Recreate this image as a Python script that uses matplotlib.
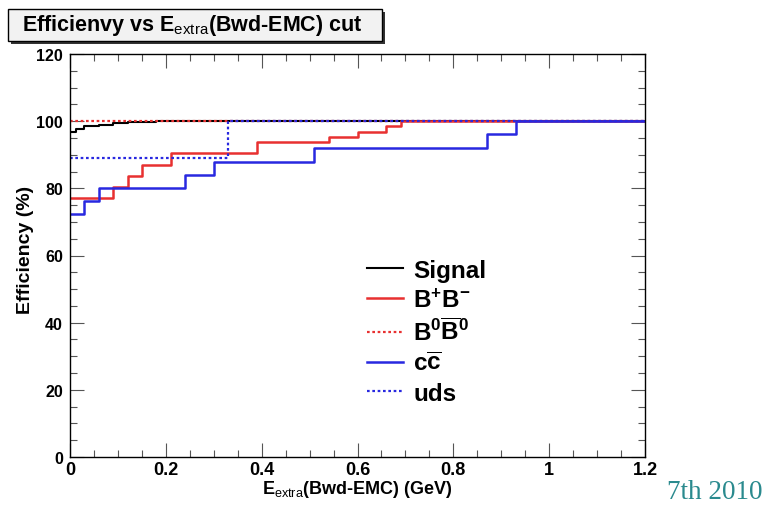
import matplotlib
matplotlib.use('Agg')
import matplotlib.pyplot as plt
from matplotlib.patches import Rectangle
from matplotlib.ticker import MultipleLocator

plt.rcParams['font.family'] = 'Liberation Sans'
plt.rcParams['mathtext.fontset'] = 'custom'
plt.rcParams['mathtext.rm'] = 'Liberation Sans'
plt.rcParams['mathtext.bf'] = 'Liberation Sans:bold'

# step curves: bin edges (GeV) and efficiency (%)
signal_x = [0, 0.012, 0.03, 0.06, 0.09, 0.12, 0.18, 1.2]
signal_y = [96.8, 97.7, 98.5, 98.9, 99.4, 99.7, 100, 100]

bpbm_x = [0, 0.09, 0.12, 0.15, 0.21, 0.39, 0.54, 0.60, 0.66, 0.69, 1.2]
bpbm_y = [77.1, 80.3, 83.6, 87.0, 90.5, 93.7, 95.4, 96.9, 98.5, 100, 100]

b0b0_x = [0, 1.2]
b0b0_y = [100, 100]

cc_x = [0, 0.03, 0.06, 0.24, 0.30, 0.51, 0.87, 0.93, 1.2]
cc_y = [72.4, 76.1, 80.0, 84.0, 87.9, 92.0, 96.2, 100, 100]

uds_x = [0, 0.33, 1.2]
uds_y = [89.0, 100, 100]

labels = ['Signal', r'$\mathbf{B^{+}B^{-}}$', r'$\mathbf{B^{0}\overline{B}^{0}}$',
          r'$\mathbf{c\overline{c}}$', 'uds']

red = '#e83030'
blue = '#2828e0'
dots = (0, (1.2, 1.2))

fig = plt.figure(figsize=(7.81, 5.06), dpi=100)
ax = fig.add_axes([70 / 781, 48 / 506, 575 / 781, 403 / 506])

ax.step(signal_x, signal_y, where='post', color='black', lw=1.5, label=labels[0])
ax.step(bpbm_x, bpbm_y, where='post', color=red, lw=1.8, label=labels[1])
ax.step(b0b0_x, b0b0_y, where='post', color=red, lw=1.6, ls=dots, label=labels[2])
ax.step(cc_x, cc_y, where='post', color=blue, lw=1.8, label=labels[3])
ax.step(uds_x, uds_y, where='post', color=blue, lw=1.6, ls=dots, label=labels[4])

ax.set_xlim(0, 1.2)
ax.set_ylim(0, 120)
ax.xaxis.set_major_locator(MultipleLocator(0.2))
ax.xaxis.set_minor_locator(MultipleLocator(0.05))
ax.yaxis.set_major_locator(MultipleLocator(20))
ax.yaxis.set_minor_locator(MultipleLocator(5))
ax.xaxis.set_major_formatter(plt.FuncFormatter(lambda v, p: f'{v:g}'))

ax.tick_params(which='both', direction='in', top=True, right=True, color='#555555', width=0.8)
ax.tick_params(which='major', length=10)
ax.tick_params(which='minor', length=5)
ax.tick_params(axis='x', labelsize=13, pad=3)
ax.tick_params(axis='y', labelsize=11.5, pad=5)
for lab in ax.get_xticklabels() + ax.get_yticklabels():
    lab.set_fontweight('bold')
for s in ax.spines.values():
    s.set_linewidth(1.0)

ax.set_xlabel(r'E$_{\mathrm{extra}}$(Bwd-EMC) (GeV)', fontsize=13, fontweight='bold')
ax.xaxis.set_label_coords(0.5, -0.053)
ax.set_ylabel('Efficiency (%)', fontsize=14, fontweight='bold')
ax.yaxis.set_label_coords(-0.062, 0.516)

leg = ax.legend(loc='upper left', bbox_to_anchor=(297 / 575, 198 / 403), frameon=False,
                fontsize=17.5, handlelength=1.5, handletextpad=0.4, labelspacing=0.27,
                borderaxespad=0, borderpad=0)
for t in leg.get_texts():
    t.set_fontweight('bold')

# title box with shadow
fig.patches.append(Rectangle((11 / 781, 461 / 506), 374 / 781, 32 / 506,
                             transform=fig.transFigure, facecolor='#333333', edgecolor='none'))
fig.patches.append(Rectangle((8 / 781, 464 / 506), 374 / 781, 32 / 506,
                             transform=fig.transFigure, facecolor='#f2f2f2', edgecolor='black', lw=1))
fig.text(192 / 781, 480 / 506, r'Efficienvy vs E$_{\mathrm{extra}}$(Bwd-EMC) cut',
         ha='center', va='center', fontsize=15.5, fontweight='bold')

fig.text(667 / 781, 7 / 506, '7th 2010', family='Liberation Serif', fontsize=19.5,
         color='#2a8a8e', ha='left', va='baseline')

plt.savefig('out.png', dpi=100)
